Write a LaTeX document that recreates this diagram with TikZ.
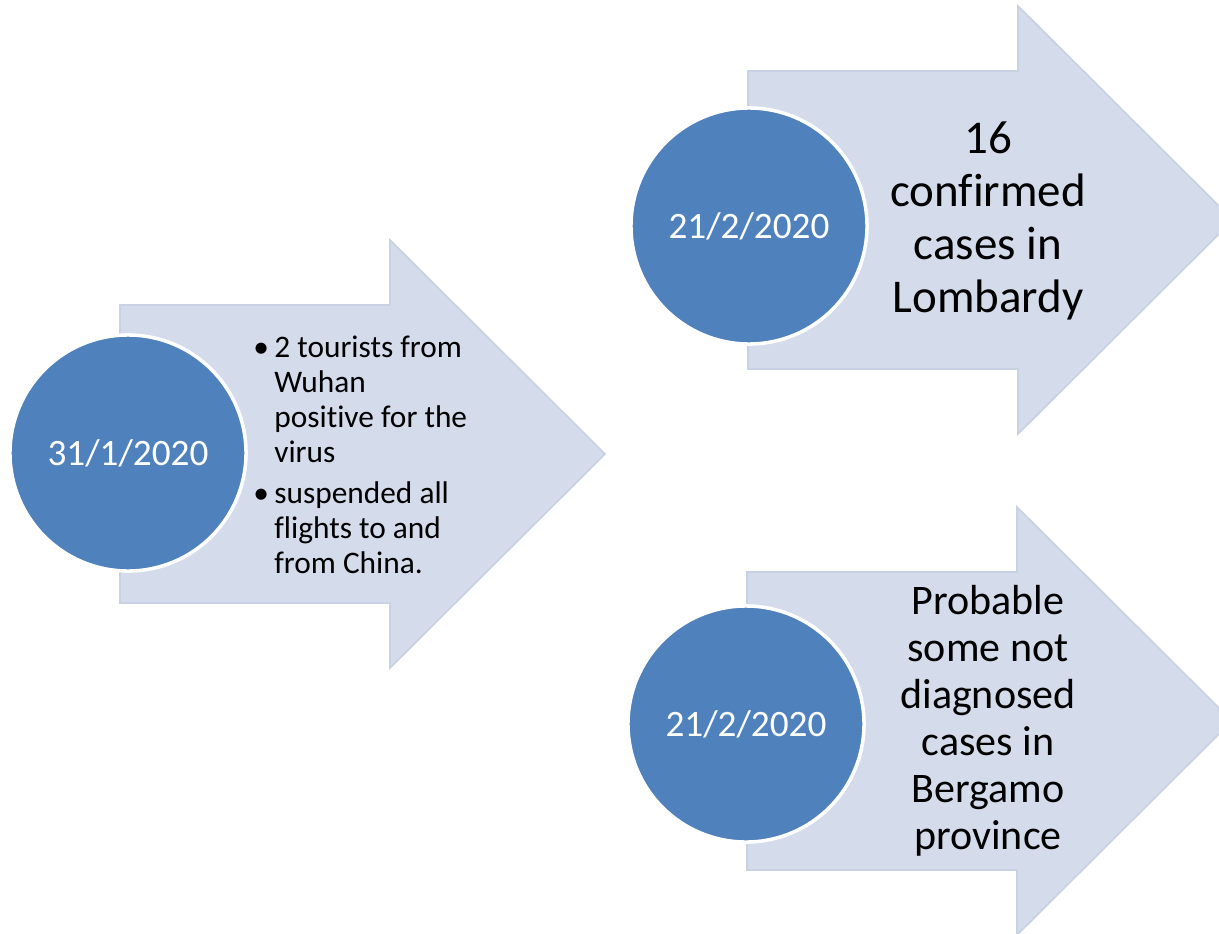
\documentclass[tikz,border=0pt]{standalone}
\usepackage{fontspec}
\setmainfont[Ligatures=NoCommon]{Carlito}
\usetikzlibrary{positioning}

\definecolor{arrowfill}{RGB}{212,219,234}
\definecolor{arrowedge}{RGB}{201,209,228}
\definecolor{datefill}{RGB}{79,129,189}

\newcommand{\bul}{\makebox[15pt][l]{\textbullet}}

\begin{document}
\begin{tikzpicture}[
  x=0.025cm, y=-0.025cm,
  arrowbody/.style={fill=arrowfill, draw=arrowedge, line width=1.2pt, line join=miter},
  datecircle/.style={circle, fill=datefill, draw=white, line width=2.5pt, minimum size=5.9cm, inner sep=0,
    text=white, font=\fontsize{26.5}{30}\selectfont},
  notetext/.style={align=left, inner sep=0, font=\fontsize{22.3}{24.9}\selectfont},
  bigtext/.style={align=center, inner sep=0, font=\fontsize{33.4}{37.7}\selectfont},
  midtext/.style={align=center, inner sep=0, font=\fontsize{29.9}{33.4}\selectfont}
]

\clip (0,0) rectangle (1219,934);

% the three arrows: name / left of body / middle height
\foreach \name/\bx/\cy in {first/120/454, lombardy/748/220, bergamo/747/721} {
  \draw[arrowbody] (\bx,\cy-149) -- ++(270,0) -- ++(0,-65) -- (\bx+485,\cy)
    -- (\bx+270,\cy+214) -- ++(0,-65) -- (\bx,\cy+149) -- cycle;
}

\node[datecircle] (d1) at (128,453) {31/1/2020};
\node[notetext, anchor=west] (n1) at (253,455)
  {\bul 2 tourists from\\ \hspace*{15pt}Wuhan\\ \hspace*{15pt}positive for the\\ \hspace*{15pt}virus\\[4.3pt]
   \bul suspended all\\ \hspace*{15pt}flights to and\\ \hspace*{15pt}from China.};

\node[datecircle] (d2) at (749,226) {21/2/2020};
\node[bigtext] (n2) at (988,221) {16\\confirmed\\cases in\\Lombardy};

\node[datecircle] (d3) at (746,724) {21/2/2020};
\node[midtext] (n3) at (988,721) {Probable\\some not\\diagnosed\\cases in\\Bergamo\\province};

\end{tikzpicture}
\end{document}
